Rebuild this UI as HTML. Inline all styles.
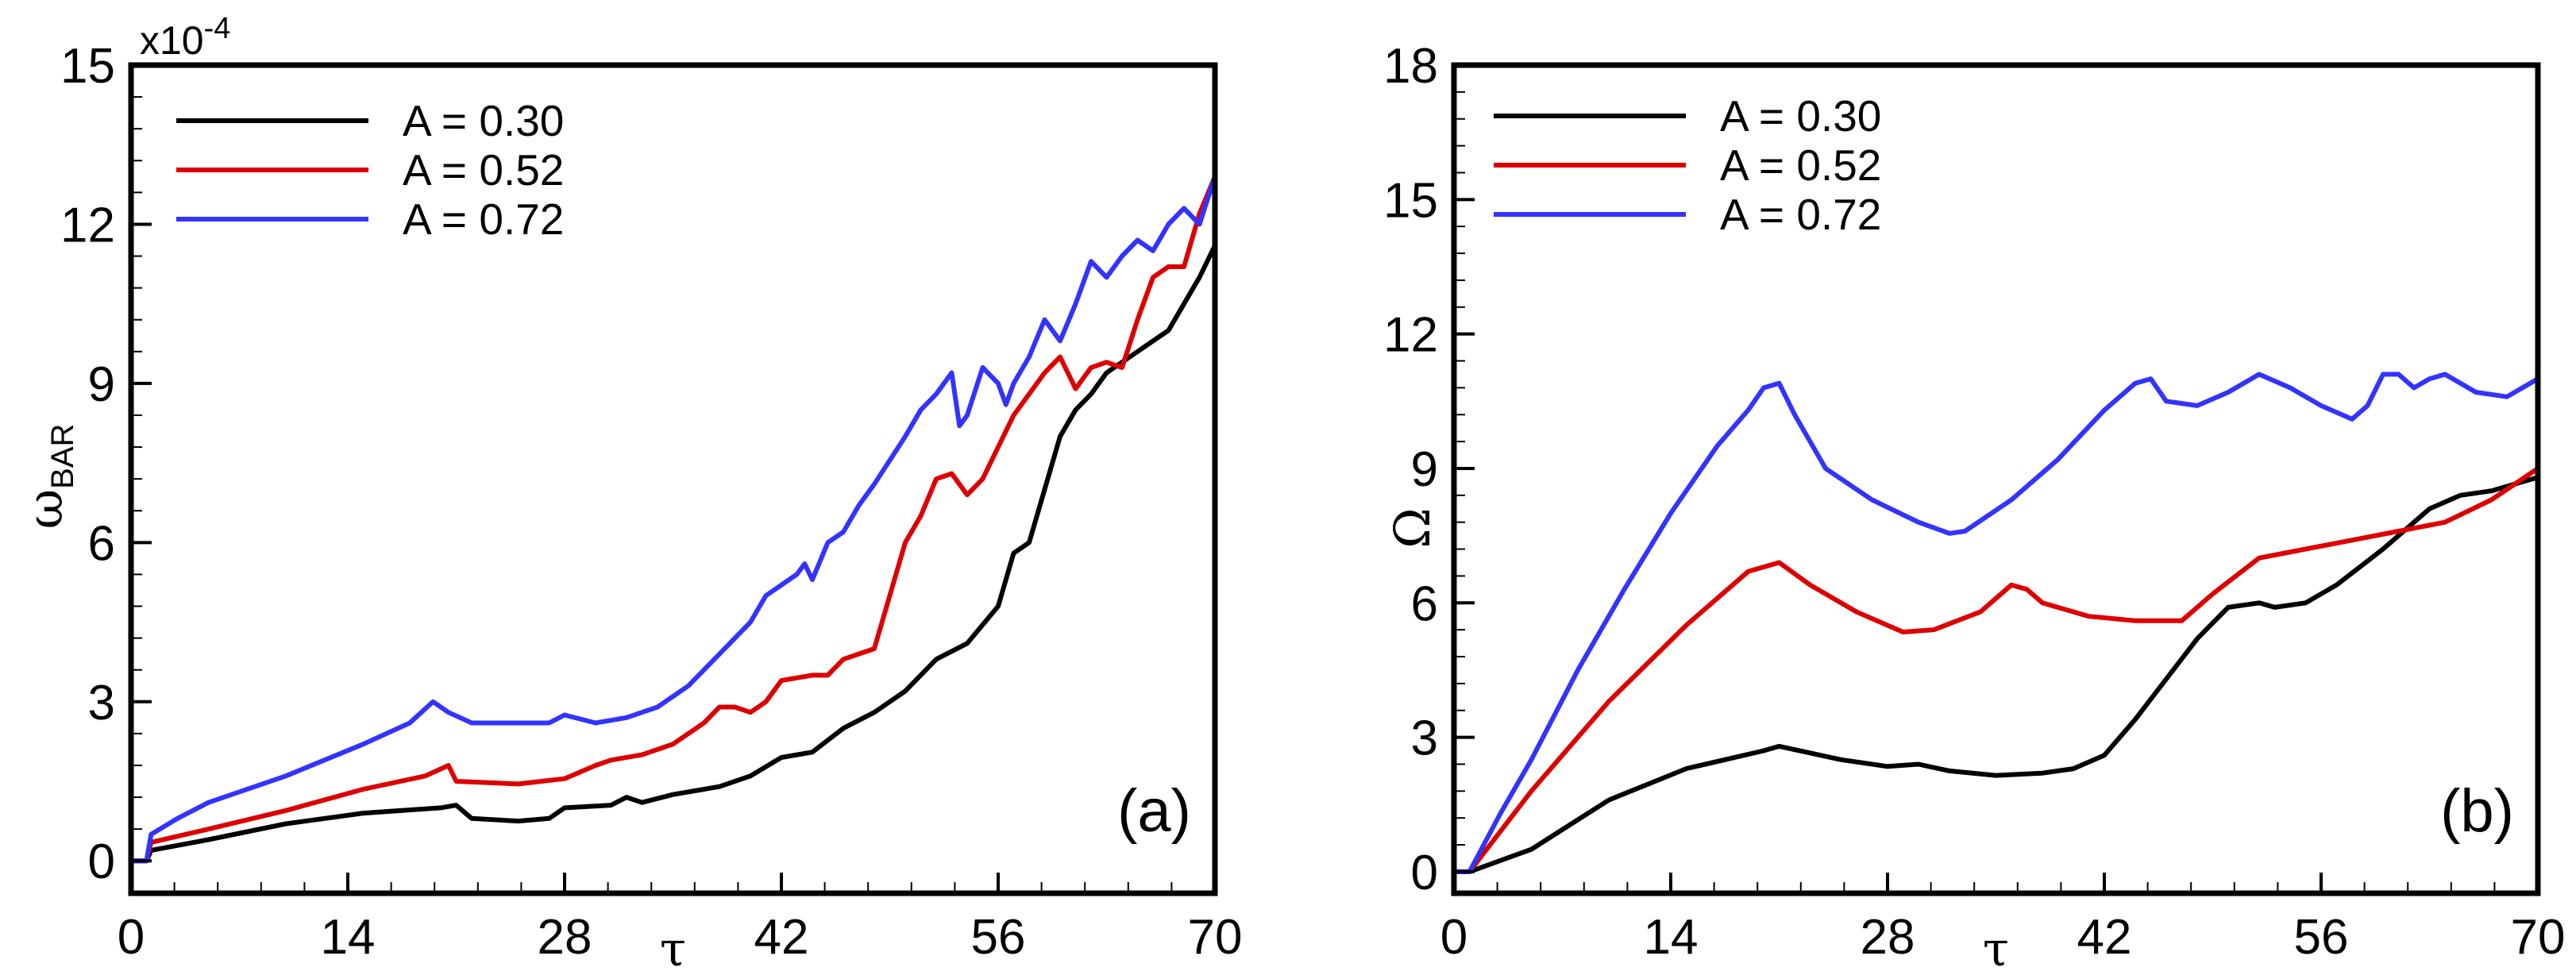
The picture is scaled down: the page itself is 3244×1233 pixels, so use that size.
<!DOCTYPE html>
<html><head><meta charset="utf-8"><style>
html,body{margin:0;padding:0;background:#fff;}
svg{display:block;font-family:"Liberation Sans",sans-serif;}
</style></head><body>
<svg id="chart" width="3244" height="1233" viewBox="0 0 3244 1233" xmlns="http://www.w3.org/2000/svg"></svg>
<script>
// Panel (a): omega_BAR x1e-4
const tauA_black=[0,1,1.3,5,10,15,20,21,22,25,27,28,31,32,33,35,38,40,42,44,46,48,50,52,54,56,57,58,59,60,61,62,63,64,65,66,67,68,69,70];
const valA_black=[0,0,0.2,0.4,0.7,0.9,1.0,1.05,0.8,0.75,0.8,1.0,1.05,1.2,1.1,1.25,1.4,1.6,1.95,2.05,2.5,2.8,3.2,3.8,4.1,4.8,5.8,6.0,7.0,8.0,8.5,8.8,9.2,9.4,9.6,9.8,10.0,10.5,11.0,11.6];
const tauA_red=[0,1,1.3,5,10,15,19,20.5,21,25,28,30,31,33,35,37,38,39,40,41,42,44,45,46,48,49,50,51,52,53,54,55,56,57,58,59,60,61,62,63,64,65,66,67,68,69,70];
const valA_red=[0,0,0.35,0.6,0.95,1.35,1.6,1.8,1.5,1.45,1.55,1.8,1.9,2.0,2.2,2.6,2.9,2.9,2.8,3.0,3.4,3.5,3.5,3.8,4.0,5.0,6.0,6.5,7.2,7.3,6.9,7.2,7.8,8.4,8.8,9.2,9.5,8.9,9.3,9.4,9.3,10.2,11.0,11.2,11.2,12.2,12.9];
const tauA_blue=[0,1,1.3,3,5,10,15,18,19.5,20.5,22,25,27,28,30,32,34,36,37,38,40,41,43,43.5,44,45,46,47,48,50,51,52,53,53.5,54,55,56,56.5,57,58,59,60,61,62,63,64,65,66,67,68,69,70];
const valA_blue=[0,0,0.5,0.8,1.1,1.6,2.2,2.6,3.0,2.8,2.6,2.6,2.6,2.75,2.6,2.7,2.9,3.3,3.6,3.9,4.5,5.0,5.4,5.6,5.3,6.0,6.2,6.7,7.1,8.0,8.5,8.8,9.2,8.2,8.4,9.3,9.0,8.6,9.0,9.5,10.2,9.8,10.5,11.3,11.0,11.4,11.7,11.5,12.0,12.3,12.0,12.9];
// Panel (b): Omega
const tauB_black=[0,1,5,10,15,20,21,25,28,30,32,35,38,40,42,44,46,48,50,52,53,55,57,60,63,65,67,70];
const valB_black=[0,0,0.5,1.6,2.3,2.7,2.8,2.5,2.35,2.4,2.25,2.15,2.2,2.3,2.6,3.4,4.3,5.2,5.9,6.0,5.9,6.0,6.4,7.2,8.1,8.4,8.5,8.8];
const tauB_red=[0,1,5,10,15,19,21,23,26,29,31,34,36,37,38,41,44,47,49,52,55,58,61,64,67,70];
const valB_red=[0,0,1.8,3.8,5.5,6.7,6.9,6.4,5.8,5.35,5.4,5.8,6.4,6.3,6.0,5.7,5.6,5.6,6.2,7.0,7.2,7.4,7.6,7.8,8.3,9.0];
const tauB_blue=[0,1,3,5,8,11,14,17,19,20,21,22,24,27,30,32,33,36,39,42,44,45,46,48,50,52,54,56,58,59,60,61,62,63,64,66,68,70];
const valB_blue=[0,0,1.3,2.5,4.5,6.3,8.0,9.5,10.3,10.8,10.9,10.2,9.0,8.3,7.8,7.55,7.6,8.3,9.2,10.3,10.9,11.0,10.5,10.4,10.7,11.1,10.8,10.4,10.1,10.4,11.1,11.1,10.8,11.0,11.1,10.7,10.6,11.0];
const xTicks=[0,14,28,42,56,70];
const yTicksA=[0,3,6,9,12,15];
const yTicksB=[0,3,6,9,12,15,18];
const legendLabels=["A = 0.30","A = 0.52","A = 0.72"];
const colors=["#000000","#dd0000","#3333ff"];

const svg=document.getElementById('chart');
const NS="http://www.w3.org/2000/svg";
function mk(tag,attrs,parent){const e=document.createElementNS(NS,tag);for(const k in attrs)e.setAttribute(k,attrs[k]);(parent||svg).appendChild(e);return e;}

function panel(cfg){
  const g=mk('g',{});
  
  
  const X=v=>cfg.x0+(v-0)/(70-0)*(cfg.x1-cfg.x0);
  const Y=v=>cfg.yb-(v-cfg.ymin)/(cfg.ymax-cfg.ymin)*(cfg.yb-cfg.yt);
  cfg.series.forEach((s,i)=>{
    const d=s.t.map((t,j)=>(j?'L':'M')+X(t).toFixed(1)+','+Y(s.v[j]).toFixed(1)).join(' ');
    const p=mk('path',{d:d,fill:'none',stroke:colors[i],'stroke-width':6,'stroke-linejoin':'round'},g);
    
    
  });
  const f=mk('rect',{x:cfg.x0,y:cfg.yt,width:cfg.x1-cfg.x0,height:cfg.yb-cfg.yt,fill:'none',stroke:'#000','stroke-width':7},g);
  
  
  for(let k=0;k<xTicks.length;k++){
    const v=xTicks[k];
    mk('line',{x1:X(v),x2:X(v),y1:cfg.yb,y2:cfg.yb-26,stroke:'#000','stroke-width':4},g);
    if(k<xTicks.length-1){for(let m=1;m<5;m++){const mv=v+m*(xTicks[1]-xTicks[0])/5;mk('line',{x1:X(mv),x2:X(mv),y1:cfg.yb,y2:cfg.yb-14,stroke:'#000','stroke-width':2},g);}}
    const t=mk('text',{x:X(v),y:cfg.yb+76,'font-size':62,'text-anchor':'middle'},g);
    t.textContent=v;
    
    
  }
  const yt=cfg.yTicks;
  for(let k=0;k<yt.length;k++){
    const v=yt[k];
    mk('line',{x1:cfg.x0,x2:cfg.x0+26,y1:Y(v),y2:Y(v),stroke:'#000','stroke-width':4},g);
    for(let m=1;m<5;m++){const mv=v+m*3/5;if(mv<cfg.ymax)mk('line',{x1:cfg.x0,x2:cfg.x0+14,y1:Y(mv),y2:Y(mv),stroke:'#000','stroke-width':2},g);}
    if(k==0){for(let m=1;m<5;m++){const mv=v-m*3/5;if(mv>cfg.ymin)mk('line',{x1:cfg.x0,x2:cfg.x0+14,y1:Y(mv),y2:Y(mv),stroke:'#000','stroke-width':2},g);}}
    const t=mk('text',{x:cfg.x0-20,y:Y(v)+22,'font-size':62,'text-anchor':'end'},g);
    t.textContent=v;
    
    
  }
  legendLabels.forEach((lab,i)=>{
    const y=cfg.legY+i*62;
    const l=mk('line',{x1:cfg.legX,x2:cfg.legX+242,y1:y,y2:y,stroke:colors[i],'stroke-width':6},g);
    
    
    const t=mk('text',{x:cfg.legX+285,y:y+19,'font-size':55},g);
    t.textContent=lab;
    
    
  });
  const pl=mk('text',{x:cfg.x1-30,y:cfg.yb-78,'font-size':76,'text-anchor':'end'},g);
  pl.textContent=cfg.label;
  
  
  const xl=mk('text',{x:(cfg.x0+cfg.x1)/2,y:1216,'font-size':60,'text-anchor':'middle','font-family':'DejaVu Serif, Liberation Serif, serif'},g);
  xl.textContent='τ';
  
  
  return {g,X,Y};
}

const a=panel({name:'panel-a',x0:165,x1:1530,yt:82,yb:1125,ymin:-0.61,ymax:15,yTicks:yTicksA,legX:222,legY:152,label:'(a)',
  series:[{t:tauA_black,v:valA_black},{t:tauA_red,v:valA_red},{t:tauA_blue,v:valA_blue}]});
const b=panel({name:'panel-b',x0:1831,x1:3196,yt:82,yb:1125,ymin:-0.48,ymax:18,yTicks:yTicksB,legX:1881,legY:146,label:'(b)',
  series:[{t:tauB_black,v:valB_black},{t:tauB_red,v:valB_red},{t:tauB_blue,v:valB_blue}]});

const ex=mk('text',{x:176,y:68,'font-size':50});
ex.innerHTML='x10<tspan dy="-20" font-size="38">-4</tspan>';



const ya=mk('text',{transform:'translate(78,600) rotate(-90)','font-size':62,'text-anchor':'middle','font-family':'DejaVu Serif, Liberation Serif, serif'});
ya.innerHTML='ω<tspan dy="14" font-size="40" font-family="Liberation Sans, sans-serif">BAR</tspan>';



const yb=mk('text',{transform:'translate(1800,665) rotate(-90)','font-size':62,'text-anchor':'middle','font-family':'DejaVu Serif, Liberation Serif, serif'});
yb.textContent='Ω';


</script>
</body></html>
